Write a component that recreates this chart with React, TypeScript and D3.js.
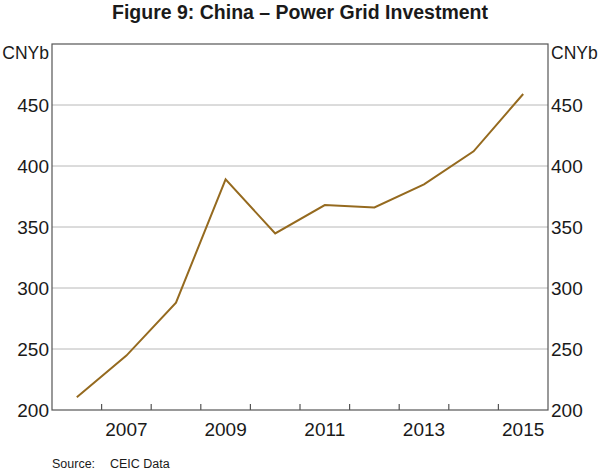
import { useEffect, useRef } from "react";
import * as d3 from "d3";

const years = [2006, 2007, 2008, 2009, 2010, 2011, 2012, 2013, 2014, 2015];
const investment = [210.5, 244.6, 288, 389, 344.7, 368, 366, 385, 412, 459];
const yTicks = [200, 250, 300, 350, 400, 450];
const xLabels = [2007, 2009, 2011, 2013, 2015];

const width = 600;
const height = 472;
const margin = { top: 44, right: 52, bottom: 62, left: 52 };

const App = () => {
  const ref = useRef<SVGSVGElement>(null);

  useEffect(() => {
    if (!ref.current) return;
    const svg = d3.select(ref.current);
    svg.selectAll("*").remove();
    const font = "Arial, 'Liberation Sans', sans-serif";

    const x0 = margin.left;
    const x1 = width - margin.right;
    const y0 = height - margin.bottom;
    const y1 = margin.top;

    // one band per year, ticks at the band edges
    const x = d3.scaleLinear().domain([2006, 2016]).range([x0, x1]);
    const y = d3.scaleLinear().domain([200, 500]).range([y0, y1]);

    svg
      .append("text")
      .attr("x", width / 2)
      .attr("y", 19)
      .attr("text-anchor", "middle")
      .attr("font-family", font)
      .attr("font-weight", "bold")
      .attr("font-size", 19.5)
      .attr("fill", "#1a1a1a")
      .text("Figure 9: China \u2013 Power Grid Investment");

    // grid
    svg
      .append("g")
      .selectAll("line")
      .data(yTicks.filter((d) => d > 200))
      .enter()
      .append("line")
      .attr("x1", x0)
      .attr("x2", x1)
      .attr("y1", (d) => y(d))
      .attr("y2", (d) => y(d))
      .attr("stroke", "#b8b8b8")
      .attr("stroke-width", 1);

    // frame
    svg
      .append("rect")
      .attr("x", x0)
      .attr("y", y1)
      .attr("width", x1 - x0)
      .attr("height", y0 - y1)
      .attr("fill", "none")
      .attr("stroke", "#555")
      .attr("stroke-width", 1.2);

    // x ticks (pointing up)
    svg
      .append("g")
      .selectAll("line")
      .data(d3.range(2007, 2016))
      .enter()
      .append("line")
      .attr("x1", (d) => x(d))
      .attr("x2", (d) => x(d))
      .attr("y1", y0)
      .attr("y2", y0 - 6)
      .attr("stroke", "#555")
      .attr("stroke-width", 1.2);

    svg
      .append("g")
      .selectAll("text")
      .data(xLabels)
      .enter()
      .append("text")
      .attr("x", (d) => x(d + 0.5))
      .attr("y", y0 + 26)
      .attr("text-anchor", "middle")
      .attr("font-family", font)
      .attr("font-size", 19)
      .attr("fill", "#1a1a1a")
      .text((d) => d);

    // y labels both sides
    const yl = svg.append("g").attr("font-family", font).attr("font-size", 19).attr("fill", "#1a1a1a");
    yl.selectAll(".l")
      .data(yTicks)
      .enter()
      .append("text")
      .attr("x", x0 - 3)
      .attr("y", (d) => y(d) + 7)
      .attr("text-anchor", "end")
      .text((d) => d);
    yl.selectAll(".r")
      .data(yTicks)
      .enter()
      .append("text")
      .attr("x", x1 + 3)
      .attr("y", (d) => y(d) + 7)
      .attr("text-anchor", "start")
      .text((d) => d);
    yl.append("text").attr("x", x0 - 3).attr("y", y1 + 15).attr("text-anchor", "end").attr("font-size", 17.5).text("CNYb");
    yl.append("text").attr("x", x1 + 3).attr("y", y1 + 15).attr("text-anchor", "start").attr("font-size", 17.5).text("CNYb");

    const line = d3
      .line<number>()
      .x((_, i) => x(years[i] + 0.5))
      .y((d) => y(d));

    svg
      .append("path")
      .datum(investment)
      .attr("d", line)
      .attr("fill", "none")
      .attr("stroke", "#956a1f")
      .attr("stroke-width", 2);

    const src = svg.append("g").attr("font-family", font).attr("font-size", 12.5).attr("fill", "#1a1a1a");
    src.append("text").attr("x", x0).attr("y", 468).text("Source:");
    src.append("text").attr("x", 110).attr("y", 468).text("CEIC Data");
  }, []);

  return (
    <svg
      ref={ref}
      width={width}
      height={height}
      style={{ position: "absolute", left: 0, top: 0, background: "#fff" }}
    />
  );
};

export default App;
